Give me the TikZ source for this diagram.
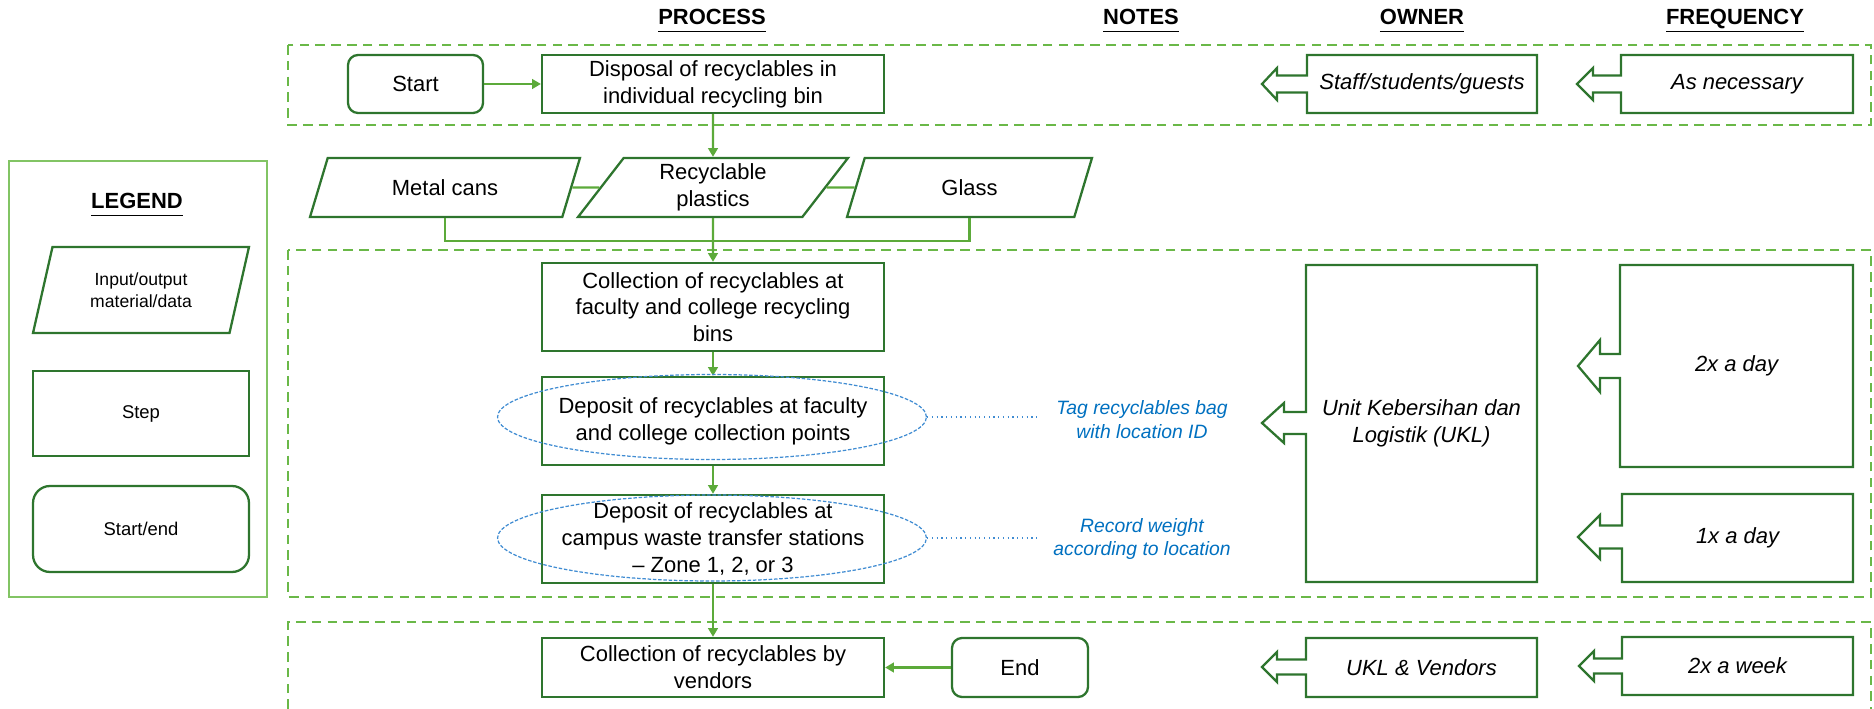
\documentclass[tikz,border=0pt]{standalone}
\usepackage{fontspec}
\setmainfont{Liberation Sans}
\usetikzlibrary{shapes.geometric,arrows.meta}
\definecolor{boxgreen}{RGB}{46,117,46}
\definecolor{flowgreen}{RGB}{92,170,58}
\definecolor{lanegreen}{RGB}{106,184,72}
\definecolor{keygreen}{RGB}{130,196,100}
\definecolor{noteblue}{RGB}{0,112,192}
\definecolor{ringblue}{RGB}{64,140,210}
\begin{document}
\begin{tikzpicture}
[x=0.02cm, y=-0.02cm,
 every node/.style={font=\fontsize{12.5}{15.2}\selectfont, align=center},
 stepbox/.style={draw=boxgreen, line width=1.3pt, rectangle, minimum width=6.84cm, minimum height=1.16cm, inner sep=2pt},
 termbox/.style={draw=boxgreen, line width=1.3pt, rounded corners=0.2cm, minimum width=2.7cm, minimum height=1.16cm},
 iobox/.style={draw=boxgreen, line width=1.3pt, trapezium, trapezium left angle=48, trapezium right angle=132, trapezium stretches body, minimum width=5.4cm, minimum height=1.18cm, inner sep=1pt},
 flow/.style={draw=flowgreen, line width=1.3pt, -{Triangle[length=5pt,width=5.5pt]}},
 link/.style={draw=flowgreen, line width=1.3pt},
 lane/.style={draw=lanegreen, line width=1.1pt, dash pattern=on 5.5pt off 3.5pt},
 ring/.style={draw=ringblue, ellipse, line width=0.7pt, dash pattern=on 2pt off 1pt, minimum width=8.58cm, minimum height=1.7cm, inner sep=0pt},
 noteline/.style={draw=ringblue, line width=0.7pt, dotted, shorten >=0.2cm},
 notetext/.style={text=noteblue, font=\fontsize{11}{13.6}\selectfont\itshape},
 callout/.style={draw=boxgreen, line width=1.3pt},
 heading/.style={font=\fontsize{12.5}{15}\selectfont\bfseries}]
\useasboundingbox (0,0) rectangle (1874,709);
%% the three dashed lanes
\draw[lane] (288,45) rectangle (1871,125);
\draw[lane] (288,250) rectangle (1871,597);
\draw[lane] (288,709) |- (1871,622) -- (1871,709);
%% column headings
\foreach \nm/\x/\txt in {hproc/712/PROCESS, hnote/1141/NOTES, hown/1422/OWNER, hfreq/1735/FREQUENCY} {
  \node[heading] (\nm) at (\x,21) {\underline{\txt\vphantom{Q}}};
}
%% legend
\draw[draw=keygreen, line width=0.9pt] (9,161) rectangle (267,597);
\node[heading] (hkey) at (137,205) {\underline{LEGEND\vphantom{Q}}};
\node[iobox, trapezium left angle=63, trapezium right angle=117, minimum width=4.32cm, minimum height=1.72cm, font=\fontsize{10}{12.4}\selectfont] (keyio) at (141,290) {Input/output\\material/data};
\node[stepbox, minimum width=4.32cm, minimum height=1.7cm, font=\fontsize{10.5}{12.6}\selectfont] (keystep) at (141,413.5) {Step};
\node[termbox, rounded corners=0.34cm, minimum width=4.32cm, minimum height=1.72cm, font=\fontsize{10.5}{12.6}\selectfont] (keyterm) at (141,529) {Start/end};
%% process column
\node[termbox] (start) at (415.5,84) {Start};
\node[stepbox] (disposal) at (713,84) {Disposal of recyclables in\\individual recycling bin};
\node[iobox] (metal) at (445,187.5) {Metal cans};
\node[iobox] (plastics) at (713,187.5) {Recyclable\\plastics};
\node[iobox, minimum width=4.9cm] (glass) at (969.5,187.5) {Glass};
\node[stepbox, minimum height=1.76cm] (collect) at (713,307) {Collection of recyclables at\\faculty and college recycling\\bins};
\node[stepbox, minimum height=1.76cm] (depfac) at (713,421) {Deposit of recyclables at faculty\\and college collection points};
\node[stepbox, minimum height=1.76cm] (depcamp) at (713,539) {Deposit of recyclables at\\campus waste transfer stations\\– Zone 1, 2, or 3};
\node[stepbox, minimum height=1.18cm] (vendors) at (713,667.5) {Collection of recyclables by\\vendors};
\node[termbox, minimum width=2.72cm, minimum height=1.18cm] (finish) at (1020,667.5) {End};
%% connectors
\draw[flow] (start) -- (disposal);
\draw[flow] (disposal) -- (plastics);
\draw[link] (metal) -- (plastics);
\draw[link] (plastics) -- (glass);
\draw[link] (metal.south) -- ++(0,23) -| (glass.south);
\draw[flow] (plastics) -- (collect);
\draw[flow] (collect) -- (depfac);
\draw[flow] (depfac) -- (depcamp);
\draw[flow] (depcamp) -- (vendors);
\draw[flow] (finish) -- (vendors);
%% notes
\node[ring] (ring1) at (712,417) {};
\node[ring, minimum height=1.72cm] (ring2) at (712,538) {};
\node[notetext] (note1) at (1142,420) {Tag recyclables bag\\with location ID};
\node[notetext] (note2) at (1142,539) {Record weight\\according to location};
\draw[noteline] (ring1.east) -- (ring1.east -| note1.west);
\draw[noteline] (ring2.east) -- (ring2.east -| note2.west);
%% owner and frequency callouts
\foreach \nm/\xl/\xr/\yt/\yb/\ya/\sh/\hw/\hl/\sl/\txt in {
  own1/1307/1537/55/113/84/8.5/16/15/30/{Staff/students/guests},
  frq1/1621/1853/55/113/84/8.5/16/16/28/{As necessary},
  own2/1306/1537/265/582/423/11/20/22/22/{Unit Kebersihan dan\\Logistik (UKL)},
  frq2/1620/1853/265/467/366/12/26/22/20/{2x a day},
  frq3/1622/1853/494/582/537/11.5/22/22/22/{1x a day},
  own3/1306/1537/638/697/667/7.5/15/15/29/{UKL \& Vendors},
  frq4/1622/1853/637/695/666/7.5/15/15/28/{2x a week}} {
  \draw[callout] (\xr,\yt) -- (\xl,\yt) -- (\xl,\ya-\sh) -- (\xl-\sl,\ya-\sh)
    -- (\xl-\sl,\ya-\hw) -- (\xl-\sl-\hl,\ya) -- (\xl-\sl,\ya+\hw)
    -- (\xl-\sl,\ya+\sh) -- (\xl,\ya+\sh) -- (\xl,\yb) -- (\xr,\yb) -- cycle;
  \node[font=\fontsize{12.5}{15.2}\selectfont\itshape] (\nm) at ({(\xl+\xr)/2},{(\yt+\yb)/2}) {\txt};
}
\end{tikzpicture}
\end{document}
